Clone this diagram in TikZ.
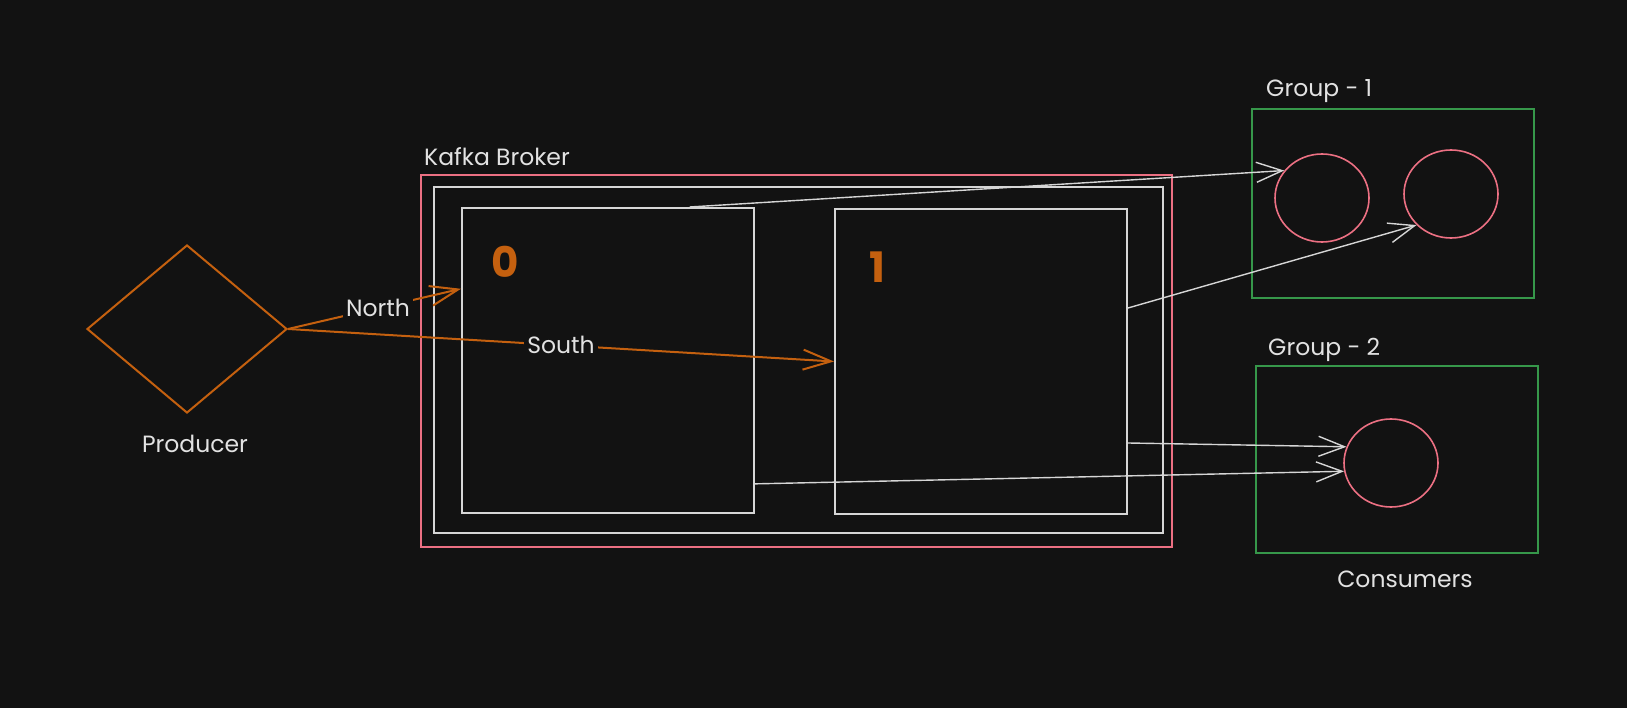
\documentclass[tikz,border=0pt]{standalone}
\usepackage{fontspec}
\setmainfont{Poppins}
\usetikzlibrary{arrows.meta,shapes.geometric}
\definecolor{bg}{HTML}{121212}
\definecolor{txt}{HTML}{E2E2E2}
\definecolor{wline}{HTML}{D6D6D6}
\definecolor{kred}{HTML}{EC7083}
\definecolor{kgreen}{HTML}{36974A}
\definecolor{korange}{HTML}{C4600F}
\tikzset{
	lbl/.style={text=txt,inner sep=1pt,font=\fontsize{23.5}{26}\selectfont},
	num/.style={text=korange,inner sep=0pt,font=\fontsize{42}{46}\selectfont\bfseries},
	part/.style={draw=wline,line width=2pt,minimum width=292pt,minimum height=305pt,inner sep=0pt},
	grp/.style={draw=kgreen,line width=2.2pt,minimum width=282pt,inner sep=0pt},
	cons/.style={draw=kred,ellipse,line width=1.6pt,minimum width=94pt,minimum height=88pt,inner sep=0pt},
	wire/.style={draw=wline,line width=1.4pt,-{Straight Barb[length=26pt,width=20pt]}},
	feed/.style={draw=korange,line width=2pt,-{Straight Barb[length=28pt,width=20pt]}}
}
\begin{document}
\begin{tikzpicture}[x=1pt,y=-1pt]
	\fill[bg] (0,0) rectangle (1627,708);
	% broker
	\node[draw=kred,line width=1.5pt,minimum width=751pt,minimum height=372pt,inner sep=0pt] (broker) at (796.5,361) {};
	\node[draw=wline,line width=1.5pt,minimum width=729pt,minimum height=346pt,inner sep=0pt] (topic) at (798.5,360) {};
	\node[part] (p0) at (608,360.5) {};
	\node[part] (p1) at (981,361.5) {};
	\node[num] (n0) at (505,262) {0};
	\node[num] (n1) at (877,267) {1};
	\node[lbl, anchor=west] (brokerlbl) at (423,157) {Kafka Broker};
	% producer
	\node[draw=korange,diamond,line width=2pt,minimum width=200pt,minimum height=168pt,inner sep=0pt] (prod) at (187,329) {};
	\node[lbl] (prodlbl) at (195,444) {Producer};
	% consumer groups
	\node[grp,minimum height=189pt] (g1) at (1393,203.5) {};
	\node[grp,minimum height=187pt] (g2) at (1397,459.5) {};
	\node[lbl, anchor=west] (g1lbl) at (1265,91) {Group - 1};
	\node[lbl, anchor=west] (g2lbl) at (1267,350) {Group - 2};
	\node[cons] (c1) at (1322,198) {};
	\node[cons] (c2) at (1451,194) {};
	\node[cons] (c3) at (1391,463) {};
	\node[lbl] (conslbl) at (1405,579) {Consumers};
	% messages
	\draw[feed] (prod.east) -- node[pos=0.52,fill=bg,lbl,inner sep=3pt] {North} (p0.154);
	\draw[feed] (prod.east) -- node[pos=0.5,fill=bg,lbl,inner sep=3pt] {South} (p1.west);
	\draw[wire] (p0.62) -- (c1.144);
	\draw[wire] (p1.20) -- (c2.222);
	\draw[wire] (p1.-29) -- (c3.160);
	\draw[wire] (p0.-40) -- (c3.190);
\end{tikzpicture}
\end{document}
